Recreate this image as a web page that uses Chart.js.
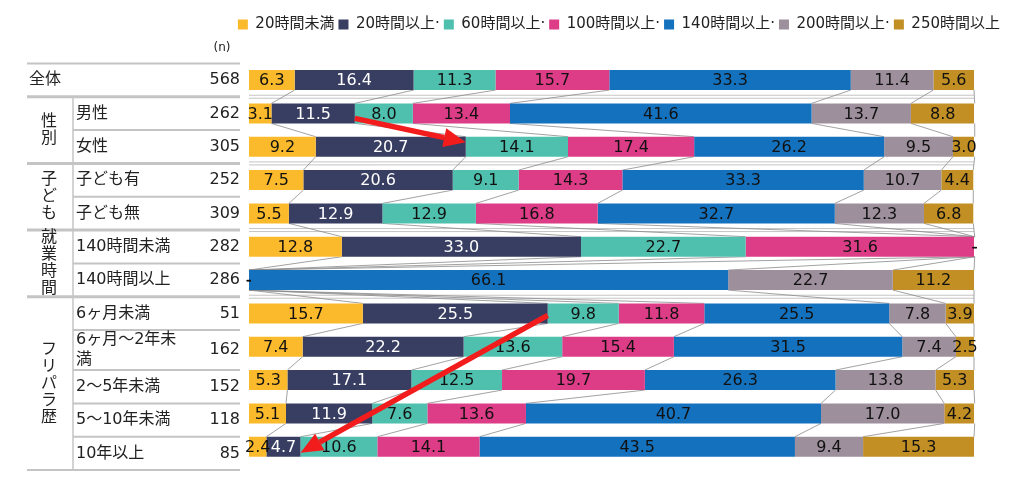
<!DOCTYPE html>
<html lang="ja">
<head>
    <meta charset="UTF-8">
    <title>月間就業時間の分布</title>
    <script src="https://cdn.jsdelivr.net/npm/chart.js@4.4.0/dist/chart.umd.min.js"></script>
    <style>
        body {
            margin: 0;
            background-color: #ffffff;
        }

        .chart-box {
            position: relative;
            width: 1024px;
            height: 484px;
        }
    </style>
</head>
<body>
    <div class="chart-box">
        <canvas id="hours-chart"></canvas>
    </div>

    <script>
        // rows (top to bottom) and their sample sizes
        const rowLabels = ['全体', '男性', '女性', '子ども有', '子ども無', '140時間未満', '140時間以上',
            '6ヶ月未満', ['6ヶ月〜2年未', '満'], '2〜5年未満', '5〜10年未満', '10年以上'];
        const sampleSizes = [568, 262, 305, 252, 309, 282, 286, 51, 162, 152, 118, 85];

        // row groups shown as vertical text on the left
        const groupNames = ['性別', '子ども', '就業時間', 'フリパラ歴'];
        const groupFirstRow = [1, 3, 5, 7];
        const groupRowCount = [2, 2, 2, 5];

        // series (share in %), one value per row
        const seriesNames = ['20時間未満', '20時間以上·', '60時間以上·', '100時間以上·', '140時間以上·', '200時間以上·', '250時間以上'];
        const under20 = [6.3, 3.1, 9.2, 7.5, 5.5, 12.8, 0, 15.7, 7.4, 5.3, 5.1, 2.4];
        const from20 = [16.4, 11.5, 20.7, 20.6, 12.9, 33.0, 0, 25.5, 22.2, 17.1, 11.9, 4.7];
        const from60 = [11.3, 8.0, 14.1, 9.1, 12.9, 22.7, 0, 9.8, 13.6, 12.5, 7.6, 10.6];
        const from100 = [15.7, 13.4, 17.4, 14.3, 16.8, 31.6, 0, 11.8, 15.4, 19.7, 13.6, 14.1];
        const from140 = [33.3, 41.6, 26.2, 33.3, 32.7, 0, 66.1, 25.5, 31.5, 26.3, 40.7, 43.5];
        const from200 = [11.4, 13.7, 9.5, 10.7, 12.3, 0, 22.7, 7.8, 7.4, 13.8, 17.0, 9.4];
        const from250 = [5.6, 8.8, 3.0, 4.4, 6.8, 0, 11.2, 3.9, 2.5, 5.3, 4.2, 15.3];

        // red arrows: from the end of the "20時間以上" segment of one row to another
        const arrowLinks = [
            { from: 1, to: 2, startDy: 5, endDy: -4.5 },
            { from: 7, to: 11, startDy: 2, endDy: 6 }
        ];

        const seriesColors = ['#fbba2c', '#383e62', '#4fc0ae', '#dd3c86', '#1471be', '#9e8f9c', '#c18f23'];
        const FONT = '"DejaVu Sans", "Noto Sans CJK JP", sans-serif';
        const LINE_COLOR = '#c4c4c4';

        Chart.defaults.font.family = FONT;

        // make room under the legend so the rows start where the table starts
        const legendSpacer = {
            id: 'legendSpacer',
            beforeLayout(chart) {
                if (chart.legend && !chart.legend._spaced) {
                    const fit = chart.legend.fit;
                    chart.legend.fit = function () {
                        fit.call(this);
                        this.height = 50.4;
                    };
                    chart.legend._spaced = true;
                }
            }
        };

        function tableRows(chart) {
            const y = chart.scales.y;
            const band = y.getPixelForValue(1) - y.getPixelForValue(0);
            const rows = [];
            let top = chart.chartArea.top;
            rowLabels.forEach(label => {
                const lines = Array.isArray(label) ? label : [label];
                const h = band + (lines.length - 1) * 6.7;
                rows.push({ top: top, h: h, lines: lines });
                top += h;
            });
            return rows;
        }

        function hLine(ctx, x1, x2, y, width) {
            ctx.lineWidth = width;
            ctx.beginPath();
            ctx.moveTo(x1, y);
            ctx.lineTo(x2, y);
            ctx.stroke();
        }

        // left table, group separators and the connector lines between rows
        const sideTable = {
            id: 'sideTable',
            beforeDatasetsDraw(chart) {
                const { ctx, chartArea, scales: { y } } = chart;
                const rows = tableRows(chart);
                const last = rows[rows.length - 1];
                const tableBottom = last.top + last.h;

                ctx.save();
                ctx.strokeStyle = LINE_COLOR;
                hLine(ctx, 27, 240, chartArea.top, 2);
                for (let i = 1; i < rows.length; i++) {
                    if (groupFirstRow.includes(i)) {
                        hLine(ctx, 27, 240, rows[i].top, 3);
                        const gy = (y.getPixelForValue(i - 1) + y.getPixelForValue(i)) / 2;
                        hLine(ctx, chartArea.left, chartArea.right, gy - 1.5, 1);
                        hLine(ctx, chartArea.left, chartArea.right, gy + 1.5, 1);
                    } else {
                        hLine(ctx, 73, 240, rows[i].top, 2);
                    }
                }
                hLine(ctx, 27, 240, tableBottom, 2);
                ctx.lineWidth = 1.5;
                ctx.beginPath();
                ctx.moveTo(73, rows[1].top);
                ctx.lineTo(73, tableBottom);
                ctx.stroke();

                // thin connectors between matching boundaries of neighbouring bars
                ctx.strokeStyle = '#8a8a8a';
                ctx.lineWidth = 0.8;
                chart.data.datasets.forEach((ds, d) => {
                    const bars = chart.getDatasetMeta(d).data;
                    for (let i = 0; i < bars.length - 1; i++) {
                        const a = bars[i];
                        const b = bars[i + 1];
                        ctx.beginPath();
                        ctx.moveTo(a.x, a.y + a.height / 2);
                        ctx.lineTo(b.x, b.y - b.height / 2);
                        ctx.stroke();
                    }
                });

                // texts of the table
                ctx.fillStyle = '#222';
                ctx.textBaseline = 'middle';
                ctx.font = '12px ' + FONT;
                ctx.textAlign = 'center';
                ctx.fillText('(n)', 222, 48);

                ctx.font = '16px ' + FONT;
                rows.forEach((row, i) => {
                    const inGroup = groupFirstRow.some((g, k) => i >= g && i < g + groupRowCount[k]);
                    const cy = row.top + row.h / 2;
                    ctx.textAlign = 'left';
                    row.lines.forEach((line, l) => {
                        const ly = cy + (l - (row.lines.length - 1) / 2) * 20;
                        ctx.fillText(line, inGroup ? 76 : 29, ly);
                    });
                    ctx.textAlign = 'right';
                    ctx.fillText(String(sampleSizes[i]), 240, cy);
                });

                ctx.textAlign = 'center';
                groupNames.forEach((name, k) => {
                    const first = rows[groupFirstRow[k]];
                    const lastRow = rows[groupFirstRow[k] + groupRowCount[k] - 1];
                    const cy = (first.top + lastRow.top + lastRow.h) / 2;
                    const chars = Array.from(name);
                    chars.forEach((ch, c) => {
                        ctx.fillText(ch, 49, cy + (c - (chars.length - 1) / 2) * 17);
                    });
                });
                ctx.restore();
            }
        };

        function drawArrow(ctx, x1, y1, x2, y2) {
            const ang = Math.atan2(y2 - y1, x2 - x1);
            const headLen = 22;
            const headHalf = 9.5;
            const bx = x2 - headLen * Math.cos(ang);
            const by = y2 - headLen * Math.sin(ang);
            ctx.strokeStyle = '#f31c1c';
            ctx.fillStyle = '#f31c1c';
            ctx.lineWidth = 5.5;
            ctx.beginPath();
            ctx.moveTo(x1, y1);
            ctx.lineTo(bx, by);
            ctx.stroke();
            ctx.beginPath();
            ctx.moveTo(x2, y2);
            ctx.lineTo(bx + headHalf * Math.sin(ang), by - headHalf * Math.cos(ang));
            ctx.lineTo(bx - headHalf * Math.sin(ang), by + headHalf * Math.cos(ang));
            ctx.closePath();
            ctx.fill();
        }

        // value labels in the segments, then the red arrows on top
        const segmentLabels = {
            id: 'segmentLabels',
            afterDatasetsDraw(chart) {
                const ctx = chart.ctx;
                ctx.save();
                ctx.font = '16px ' + FONT;
                ctx.textAlign = 'center';
                ctx.textBaseline = 'middle';
                chart.data.datasets.forEach((ds, d) => {
                    chart.getDatasetMeta(d).data.forEach((bar, i) => {
                        const v = ds.data[i];
                        ctx.fillStyle = d === 1 && v !== 0 ? '#ffffff' : '#111111';
                        ctx.fillText(v === 0 ? '-' : v.toFixed(1), (bar.x + bar.base) / 2, bar.y + 1);
                    });
                });

                const bars = chart.getDatasetMeta(1).data;
                arrowLinks.forEach(link => {
                    const a = bars[link.from];
                    const b = bars[link.to];
                    drawArrow(ctx, a.x, a.y + link.startDy, b.x, b.y + link.endDy);
                });
                ctx.restore();
            }
        };

        const seriesValues = [under20, from20, from60, from100, from140, from200, from250];

        new Chart(document.getElementById('hours-chart'), {
            type: 'bar',
            data: {
                labels: rowLabels,
                datasets: seriesValues.map((values, s) => ({
                    label: seriesNames[s],
                    data: values,
                    backgroundColor: seriesColors[s],
                    borderWidth: 0,
                    barPercentage: 0.6,
                    categoryPercentage: 1.0
                }))
            },
            options: {
                indexAxis: 'y',
                responsive: true,
                maintainAspectRatio: false,
                animation: false,
                layout: {
                    padding: { top: 13, right: 20, bottom: 20.6, left: 0 }
                },
                scales: {
                    x: {
                        stacked: true,
                        min: 0,
                        max: 100,
                        display: false
                    },
                    y: {
                        stacked: true,
                        grid: { display: false },
                        border: { display: false },
                        ticks: { display: false },
                        afterFit(scale) { scale.width = 249; }
                    },
                    yRight: {
                        type: 'category',
                        position: 'right',
                        grid: { display: false },
                        border: { display: false },
                        ticks: { display: false },
                        afterFit(scale) { scale.width = 30; }
                    }
                },
                plugins: {
                    legend: {
                        position: 'top',
                        align: 'end',
                        labels: {
                            boxWidth: 10,
                            boxHeight: 10,
                            padding: 4,
                            color: '#222',
                            font: { size: 15, family: FONT }
                        }
                    },
                    tooltip: { enabled: false }
                }
            },
            plugins: [legendSpacer, sideTable, segmentLabels]
        });
    </script>
</body>
</html>
